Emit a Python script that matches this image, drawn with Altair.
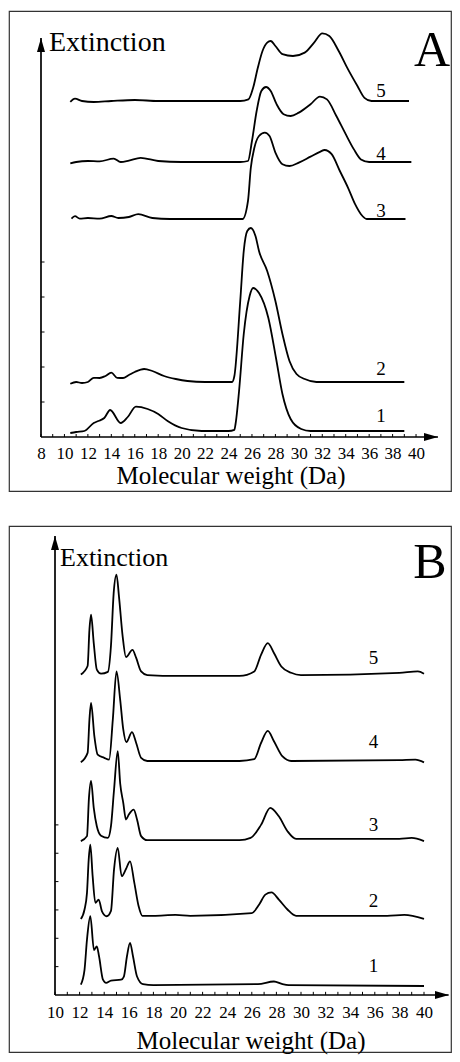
import altair as alt
import pandas as pd

FONT = "'Liberation Serif', 'Times New Roman', Times, serif"

# ---------------- Panel A data (molecular weight, extinction in arbitrary units) ----------------
A1_MW = [10.5, 11.0, 11.7, 12.5, 12.9, 13.4, 13.9, 14.8, 15.4, 16.1, 17.1, 18.0, 18.8, 20.0, 21.7, 24.0, 24.5,
         24.6, 24.9, 25.3, 25.8, 26.1, 26.6, 27.4, 28.05, 28.6, 29.3, 30.2, 31.0, 39.0]
A1_EXT = [1.0, 1.25, 1.5, 3.5, 4.0, 4.75, 6.75, 3.5, 5.0, 7.6, 7.0, 5.75, 4.0, 2.25, 1.5, 1.5, 1.8,
          3.25, 11.5, 25.75, 35.25, 37.25, 36.0, 29.75, 19.75, 10.75, 4.5, 2.0, 1.5, 1.5]

A2_MW = [10.5, 11.0, 11.5, 12.0, 12.5, 13.0, 13.5, 14.0, 14.5, 15.0, 15.5, 16.0, 16.8, 17.5, 18.5, 19.5, 20.5,
         22.0, 24.3, 24.5, 25.0, 25.3, 25.6, 25.9, 26.3, 26.6, 27.3, 28.0, 28.6, 29.2, 29.8, 30.5, 31.5, 39.0]
A2_EXT = [13.3, 13.75, 13.5, 13.75, 14.8, 14.75, 15.25, 16.1, 14.8, 14.75, 15.5, 16.25, 17.0, 16.5, 15.25, 14.5,
          14.0, 13.75, 13.75, 15.25, 34.0, 46.5, 51.5, 52.25, 50.25, 46.5, 41.5, 34.0, 25.75, 19.0, 15.75, 14.5,
          13.75, 13.75]

A3_MW = [10.6, 10.9, 11.3, 12.0, 13.0, 14.0, 14.6, 15.5, 16.3, 17.5, 19.0, 25.2, 25.66, 25.9, 26.2, 26.6, 27.1,
         27.5, 28.0, 28.6, 29.2, 30.0, 31.0, 31.8, 32.2, 32.8, 33.5, 34.2, 34.8, 35.3, 35.8, 39.1]
A3_EXT = [54.6, 55.2, 54.6, 54.75, 54.6, 55.25, 54.75, 55.0, 55.7, 54.75, 54.5, 54.5, 59.0, 67.25, 72.25, 75.25,
          76.1, 75.25, 71.1, 68.2, 67.75, 68.6, 70.1, 71.3, 71.75, 70.7, 66.5, 62.3, 58.2, 55.7, 54.5, 54.5]

A4_MW = [10.5, 11.0, 12.0, 13.0, 14.2, 14.8, 15.5, 16.5, 18.0, 20.0, 25.0, 25.66, 26.0, 26.4, 26.8, 27.2, 27.6,
         28.1, 28.7, 29.3, 30.0, 31.0, 31.8, 32.4, 33.2, 34.0, 34.7, 35.3, 36.0, 39.6]
A4_EXT = [68.4, 68.75, 69.0, 68.9, 69.6, 68.75, 69.1, 69.8, 69.0, 68.75, 68.75, 69.0, 74.0, 81.5, 86.5, 87.5,
          86.5, 83.2, 80.7, 80.25, 81.1, 83.2, 85.1, 84.4, 80.25, 75.7, 71.9, 69.4, 68.75, 68.75]

A5_MW = [10.5, 10.9, 11.5, 12.5, 14.0, 16.0, 18.0, 25.0, 25.7, 26.1, 26.5, 26.9, 27.3, 27.6, 28.0, 28.6, 29.5,
         30.5, 31.3, 32.0, 32.6, 33.4, 34.2, 35.0, 35.6, 36.2, 39.4]
A5_EXT = [83.8, 84.6, 84.0, 83.75, 84.0, 84.25, 84.0, 84.0, 84.4, 87.3, 92.3, 96.5, 98.6, 99.0, 97.75, 95.7,
          95.25, 96.1, 98.6, 100.9, 100.25, 96.5, 91.9, 87.75, 84.8, 84.0, 84.0]

A_LABELS = ["1", "2", "3", "4", "5"]
A_LABEL_MW = [37.0, 37.0, 37.0, 37.0, 37.0]
A_LABEL_EXT = [5.25, 17.0, 56.5, 70.75, 86.5]
A_TICKS = list(range(8, 41, 2))

# ---------------- Panel B data ----------------
B1_MW = [12.1, 12.4, 12.6, 12.87, 13.17, 13.4, 13.58, 13.9, 14.15, 14.55, 15.37, 15.6, 15.85, 16.1, 16.34,
         16.67, 17.15, 18.0, 26.5, 27.8, 28.5, 29.0, 40.0]
B1_EXT = [2.3, 5.6, 12.3, 17.5, 10.0, 10.8, 8.6, 3.4, 2.7, 3.2, 3.4, 4.1, 8.6, 11.6, 8.6, 4.1, 2.4, 2.2, 2.4,
          3.0, 2.4, 2.2, 2.0]

B2_MW = [12.1, 12.4, 12.6, 12.74, 12.87, 13.06, 13.28, 13.55, 13.82, 14.2, 14.55, 14.8, 15.1, 15.42, 15.77,
         16.1, 16.45, 16.8, 17.1, 18.0, 19.8, 21.0, 26.0, 26.6, 27.1, 27.6, 28.2, 28.9, 29.6, 30.0, 37.0, 38.4,
         40.0]
B2_EXT = [16.9, 19.0, 22.7, 30.1, 33.4, 26.4, 20.5, 21.2, 18.6, 17.5, 18.7, 27.9, 32.7, 26.4, 28.0, 29.7, 24.9,
          19.7, 17.6, 17.6, 17.8, 17.6, 18.2, 20.1, 22.3, 22.8, 21.2, 19.0, 17.6, 17.6, 17.6, 17.8, 16.9]

B3_MW = [12.1, 12.6, 12.76, 12.93, 13.15, 13.4, 13.74, 14.3, 14.55, 14.8, 15.1, 15.3, 15.55, 15.77, 16.0, 16.4,
         16.67, 17.0, 17.5, 25.0, 25.9, 26.75, 27.5, 28.2, 28.9, 29.6, 38.0, 39.0, 40.0]
B3_EXT = [34.2, 35.3, 43.8, 47.6, 41.6, 37.5, 35.4, 34.9, 37.5, 45.6, 54.2, 47.0, 42.7, 39.0, 40.1, 41.2, 39.0,
          35.3, 34.4, 34.4, 34.9, 37.8, 41.6, 39.7, 36.4, 34.7, 34.7, 34.9, 34.2]

B4_MW = [12.1, 12.65, 12.8, 12.93, 13.2, 13.47, 14.0, 14.4, 14.7, 15.0, 15.3, 15.55, 15.8, 16.26, 16.6, 17.0,
         17.5, 25.0, 26.2, 26.75, 27.3, 27.8, 28.5, 29.2, 38.0, 39.3, 40.0]
B4_EXT = [51.7, 53.8, 61.2, 64.9, 57.5, 53.4, 52.7, 52.3, 61.2, 71.9, 65.6, 59.0, 56.2, 58.4, 56.0, 52.7, 52.0,
          52.0, 52.4, 56.0, 58.7, 56.4, 53.0, 52.0, 52.2, 52.3, 51.7]

B5_MW = [12.1, 12.65, 12.8, 12.93, 13.15, 13.4, 13.74, 14.3, 14.55, 14.77, 15.0, 15.2, 15.5, 15.77, 16.3, 16.6,
         17.0, 17.5, 20.0, 25.0, 26.2, 26.75, 27.3, 27.8, 28.4, 29.2, 30.0, 38.0, 39.5, 40.0]
B5_EXT = [71.2, 73.1, 81.2, 84.5, 78.2, 72.3, 71.4, 71.8, 77.6, 89.3, 93.4, 88.6, 79.7, 75.1, 76.7, 74.9, 71.9,
          71.1, 70.9, 70.9, 71.9, 75.6, 78.2, 76.0, 73.0, 71.6, 71.1, 71.6, 71.9, 71.4]

B_LABELS = ["1", "2", "3", "4", "5"]
B_LABEL_MW = [35.9, 35.9, 35.9, 35.9, 35.9]
B_LABEL_EXT = [6.4, 20.9, 37.8, 56.2, 74.9]
B_TICKS = list(range(10, 41, 2))


def curves_df(pairs):
    rows = []
    for name, mws, exts in pairs:
        for m, e in zip(mws, exts):
            rows.append({"series": name, "mw": m, "ext": e})
    return pd.DataFrame(rows)


ARROW_UP = "M0,-1L0.4,0.4L-0.4,0.4Z"
ARROW_RIGHT = "M1,0L-0.4,0.4L-0.4,-0.4Z"


def panel(curves, labels, lab_mw, lab_ext, ticks, xdom, ydom, w, h, x0, x_end, x_arrow, y_end, y_arrow,
          axis_offset, label_pad, y_ticks, ytick_len, xtick_len, ext_font, ext_pos, letter, letter_pos, title_pos):
    X = alt.X("mw:Q", scale=alt.Scale(domain=xdom, nice=False, zero=False),
              axis=alt.Axis(values=ticks, offset=axis_offset, domain=False, ticks=False, tickSize=0, grid=False,
                            labelFont=FONT, labelFontSize=17, labelPadding=label_pad, labelColor="black",
                            labelFlush=False, labelOverlap=False, title=None))
    Y = alt.Y("ext:Q", scale=alt.Scale(domain=ydom, nice=False, zero=False), axis=None)

    lines = alt.Chart(curves).mark_line(color="black", strokeWidth=1.8, interpolate="monotone").encode(
        x=X, y=Y, detail="series:N")

    axes_df = pd.DataFrame({"mw": [x0, x0], "mw2": [x_end, x0], "ext": [0, 0], "ext2": [0, y_end]})
    axes = alt.Chart(axes_df).mark_rule(color="black", strokeWidth=1.7).encode(
        x=X, x2="mw2:Q", y=Y, y2="ext2:Q")

    ytk = pd.DataFrame({"mw": [x0] * len(y_ticks), "mw2": [x0 + ytick_len] * len(y_ticks), "ext": y_ticks})
    ytick_layer = alt.Chart(ytk).mark_rule(color="black", strokeWidth=1).encode(x=X, x2="mw2:Q", y=Y)

    minor = list(range(int(ticks[0]), int(ticks[-1]) + 1))
    xtk = pd.DataFrame({"mw": minor, "ext": [0] * len(minor), "ext2": [xtick_len] * len(minor)})
    xtick_layer = alt.Chart(xtk).mark_rule(color="black", strokeWidth=1).encode(x=X, y=Y, y2="ext2:Q")

    up = alt.Chart(pd.DataFrame({"mw": [x0], "ext": [y_arrow]})).mark_point(
        shape=ARROW_UP, size=400, filled=True, color="black", opacity=1).encode(x=X, y=Y)
    right = alt.Chart(pd.DataFrame({"mw": [x_arrow], "ext": [0]})).mark_point(
        shape=ARROW_RIGHT, size=400, filled=True, color="black", opacity=1).encode(x=X, y=Y)

    lab_df = pd.DataFrame({"mw": lab_mw, "ext": lab_ext, "lab": labels})
    lab_layer = alt.Chart(lab_df).mark_text(font=FONT, fontSize=19, color="black", align="center",
                                            baseline="middle").encode(x=X, y=Y, text="lab:N")

    ext_txt = alt.Chart(pd.DataFrame({"t": ["Extinction"]})).mark_text(
        font=FONT, fontSize=ext_font, color="black", align="left", baseline="middle").encode(
        text="t:N", x=alt.value(ext_pos[0]), y=alt.value(ext_pos[1]))
    let_txt = alt.Chart(pd.DataFrame({"t": [letter]})).mark_text(
        font=FONT, fontSize=50, color="black", align="center", baseline="middle").encode(
        text="t:N", x=alt.value(letter_pos[0]), y=alt.value(letter_pos[1]))
    title_txt = alt.Chart(pd.DataFrame({"t": ["Molecular weight (Da)"]})).mark_text(
        font=FONT, fontSize=25, color="black", align="center", baseline="middle").encode(
        text="t:N", x=alt.value(title_pos[0]), y=alt.value(title_pos[1]))

    return alt.layer(lines, axes, ytick_layer, xtick_layer, up, right, lab_layer, ext_txt, let_txt,
                     title_txt).properties(width=w, height=h)


W = 442
dfA = curves_df([("1", A1_MW, A1_EXT), ("2", A2_MW, A2_EXT), ("3", A3_MW, A3_EXT),
                 ("4", A4_MW, A4_EXT), ("5", A5_MW, A5_EXT)])
dfB = curves_df([("1", B1_MW, B1_EXT), ("2", B2_MW, B2_EXT), ("3", B3_MW, B3_EXT),
                 ("4", B4_MW, B4_EXT), ("5", B5_MW, B5_EXT)])

panelA = panel(dfA, A_LABELS, A_LABEL_MW, A_LABEL_EXT, A_TICKS,
               xdom=[5.270, 42.983], ydom=[-13.5, 106.5], w=W, h=480,
               x0=8, x_end=41.87, x_arrow=41.02, y_end=99.75, y_arrow=97.25,
               axis_offset=-54, label_pad=8,
               y_ticks=[8.75, 17.5, 26.25, 35.0, 43.75], ytick_len=0.3, xtick_len=0.75,
               ext_font=28, ext_pos=(40, 32), letter="A", letter_pos=(423, 40), title_pos=(222, 465))

panelB = panel(dfB, B_LABELS, B_LABEL_MW, B_LABEL_EXT, B_TICKS,
               xdom=[6.260, 42.195], ydom=[-12.67, 104.22], w=W, h=526,
               x0=10, x_end=42.0, x_arrow=41.22, y_end=102.0, y_arrow=99.8,
               axis_offset=-57, label_pad=9,
               y_ticks=[6.3, 12.6, 18.9, 25.2, 31.5, 37.8], ytick_len=0.28, xtick_len=0.7,
               ext_font=26, ext_pos=(51, 32), letter="B", letter_pos=(421, 37), title_pos=(242, 515))

chart = alt.vconcat(panelA, panelB, spacing=33).properties(
    padding={"left": 0, "top": 2, "right": 0, "bottom": 0}
).configure_view(stroke="#333333", strokeWidth=1.2)

chart.save("out.html", embed_options={"renderer": "svg", "actions": False})
